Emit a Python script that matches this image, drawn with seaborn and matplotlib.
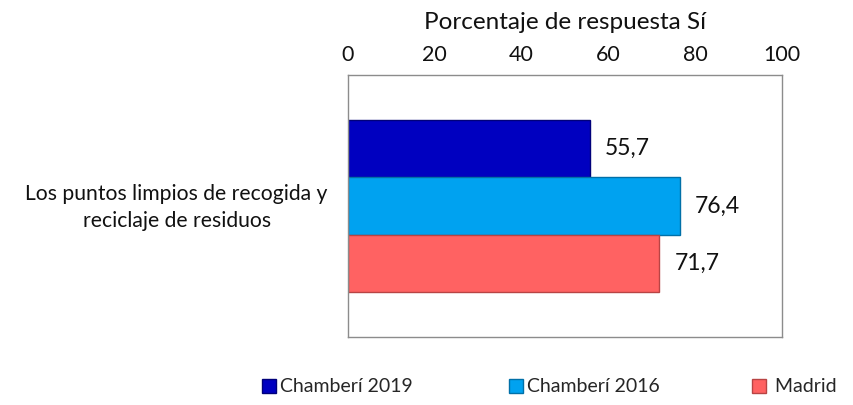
import matplotlib
matplotlib.use("Agg")
import matplotlib.pyplot as plt
import seaborn as sns
import pandas as pd
from matplotlib.patches import Patch

categories = ["Los puntos limpios de recogida y\nreciclaje de residuos"]
series = ["Chamberí 2019", "Chamberí 2016", "Madrid"]
values = [55.7, 76.4, 71.7]
colors = ["#0000C0", "#00A2F0", "#FF6262"]
edge_colors = ["#00007A", "#0070A8", "#B84444"]
xticks = [0, 20, 40, 60, 80, 100]

sns.set_theme(style="white")
plt.rcParams["font.family"] = ["Lato", "DejaVu Sans"]

df = pd.DataFrame({"cat": categories * len(series), "serie": series, "val": values})

fig = plt.figure(figsize=(8.54, 4.05), dpi=100)
ax = fig.add_axes([348 / 854, 1 - 337 / 405, (782 - 348) / 854, (337 - 75) / 405])

sns.barplot(data=df, y="cat", x="val", hue="serie", hue_order=series,
            palette=colors, orient="h", width=0.66, ax=ax, legend=False,
            saturation=1)
for i, p in enumerate(ax.patches[:3]):
    p.set_edgecolor(edge_colors[i])
    p.set_linewidth(1.0)

ax.set_xlim(0, 100)
ax.set_ylim(0.5, -0.5)
ax.xaxis.tick_top()
ax.xaxis.set_label_position("top")
ax.set_xticks(xticks)
ax.set_xticklabels([str(t) for t in xticks], fontsize=15.5, color="#111111")
ax.set_xlabel("Porcentaje de respuesta Sí", fontsize=17.5, color="#111111", labelpad=12)
ax.set_ylabel("")
ax.tick_params(axis="x", length=0, pad=7)
ax.tick_params(axis="y", length=0, pad=14)
# category label drawn as centred multi-line text at the category position
ax.set_yticks(ax.get_yticks())
ax.set_yticklabels([""] * len(categories))
for i, cat in enumerate(categories):
    ax.text(-0.395, i + 0.005, cat, transform=ax.get_yaxis_transform(), ha="center", va="center",
            multialignment="center", fontsize=15.2, color="#111111", linespacing=1.45)
for s in ax.spines.values():
    s.set_color("#8C8C8C")
    s.set_linewidth(1.0)

for p, v in zip(ax.patches[:3], values):
    y = p.get_y() + p.get_height() / 2
    ax.text(p.get_width() + 3.5, y, f"{v:.1f}".replace(".", ","),
            va="center", ha="left", fontsize=16.5, color="#111111")

legend_x = [262 / 854, 509 / 854, 752 / 854]
for name, c, ec, x in zip(series, colors, edge_colors, legend_x):
    lbl = name if name != "Madrid" else " Madrid"
    fig.legend(handles=[Patch(facecolor=c, edgecolor=ec, label=lbl)],
               loc="center left", bbox_to_anchor=(x, 1 - 387 / 405),
               frameon=False, fontsize=14, handlelength=0.7, handleheight=0.7,
               handletextpad=0.25, borderpad=0, borderaxespad=0)

fig.savefig("out.png", dpi=100)
